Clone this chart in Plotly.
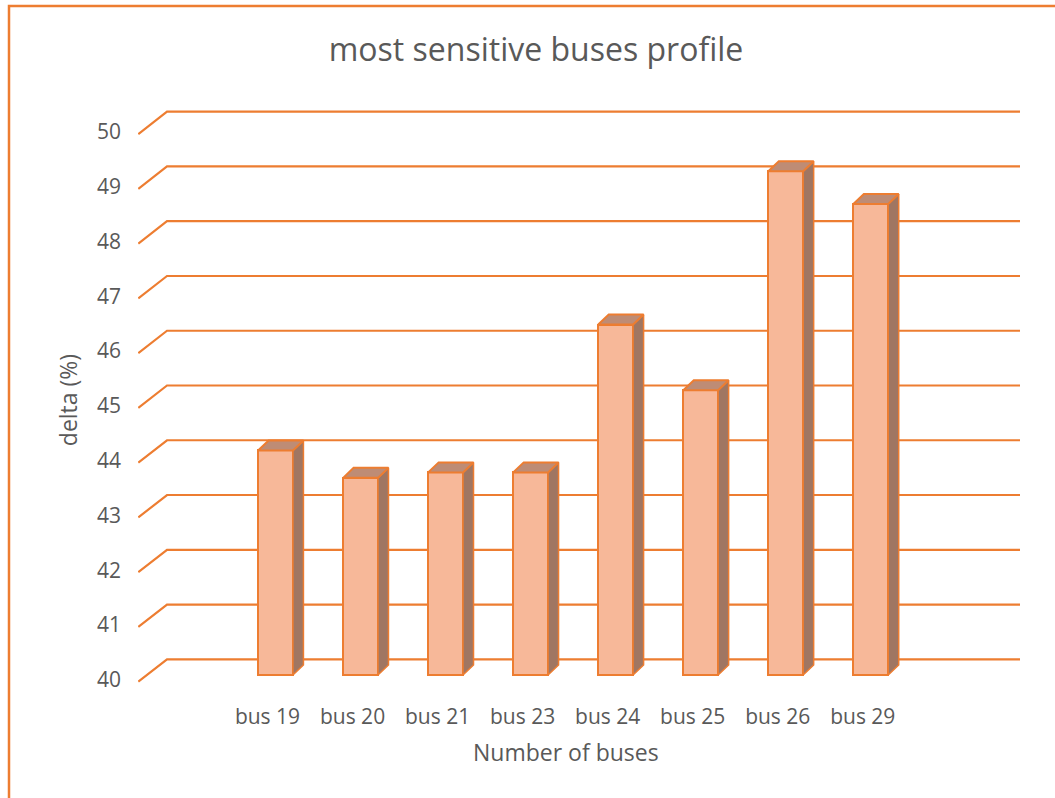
import plotly.graph_objects as go

# ---- data ----
categories = ["bus 19", "bus 20", "bus 21", "bus 23", "bus 24", "bus 25", "bus 26", "bus 29"]
delta_values = [44.1, 43.6, 43.7, 43.7, 46.4, 45.2, 49.2, 48.6]
y_ticks = [40, 41, 42, 43, 44, 45, 46, 47, 48, 49, 50]
base_value = 40

# ---- style / geometry ----
ORANGE = "#ED7D31"
FRONT = "#F7B899"
SIDE = "#A07662"
TOP = "#BE8C75"
TXT = "#595959"
FONT = "Open Sans"

W, H = 1055, 798
L, R, T, B = 138, 1030, 100, 700          # plot area in pixels
cx0, cstep = 275.5, 85.04                 # category pixel mapping
vy0, vstep = 675.0, 54.76                 # value pixel mapping (front plane)

xr = [(L - cx0) / cstep, (R - cx0) / cstep]
yr = [base_value - (B - vy0) / vstep, base_value + (vy0 - T) / vstep]

bar_w = 0.41
ddx, ddy = 10.5 / cstep, 10.0 / vstep      # bar depth offset
back_dy = (675 - 659.3) / vstep            # back wall offset
front_dy = (681.7 - 675) / vstep           # front end of side-wall gridlines
grid_x_front = (138.3 - cx0) / cstep
grid_x_back = (167 - cx0) / cstep
grid_x_end = (1020 - cx0) / cstep

xs = list(range(len(categories)))

fig = go.Figure()

# side faces
sx, sy = [], []
for i, v in zip(xs, delta_values):
    r = i + bar_w / 2
    sx += [r, r, r + ddx, r + ddx, r, None]
    sy += [base_value, v, v + ddy, base_value + ddy, base_value, None]
fig.add_trace(go.Scatter(x=sx, y=sy, mode="lines", fill="toself", fillcolor=SIDE,
                         line=dict(color=ORANGE, width=1.5), hoverinfo="skip", showlegend=False))
# top faces
tx, ty = [], []
for i, v in zip(xs, delta_values):
    l, r = i - bar_w / 2, i + bar_w / 2
    tx += [l, r, r + ddx, l + ddx, l, None]
    ty += [v, v, v + ddy, v + ddy, v, None]
fig.add_trace(go.Scatter(x=tx, y=ty, mode="lines", fill="toself", fillcolor=TOP,
                         line=dict(color=ORANGE, width=2), hoverinfo="skip", showlegend=False))
# front faces
fig.add_trace(go.Bar(x=xs, y=[v - base_value for v in delta_values], base=base_value,
                     width=bar_w, marker=dict(color=FRONT, line=dict(color=ORANGE, width=2)),
                     showlegend=False))

# gridlines (back wall + side wall) as shapes below traces
for v in y_ticks:
    fig.add_shape(type="path", layer="below", xref="x", yref="y",
                  path=f"M {grid_x_front},{v - front_dy} L {grid_x_back},{v + back_dy} L {grid_x_end},{v + back_dy}",
                  line=dict(color=ORANGE, width=2.2))

# outer border
pw, ph = R - L, B - T
fig.add_shape(type="rect", xref="paper", yref="paper", layer="above",
              x0=(9 - L) / pw, x1=(W + 40 - L) / pw,
              y0=(B - (H + 40)) / ph, y1=(B - 6) / ph,
              line=dict(color=ORANGE, width=2.5))

# x axis title
fig.add_annotation(text="Number of buses", xref="paper", yref="paper",
                   x=(566 - L) / pw, y=(B - 752) / ph, xanchor="center", yanchor="middle",
                   showarrow=False, font=dict(size=23, color=TXT, family=FONT))

fig.update_layout(
    width=W, height=H,
    margin=dict(l=L, r=W - R, t=T, b=H - B),
    paper_bgcolor="white", plot_bgcolor="white",
    font=dict(family=FONT, color=TXT),
    title=dict(text="most sensitive buses profile", x=536 / W, xanchor="center",
               y=1 - 50 / H, yanchor="middle", font=dict(size=32, color=TXT, family=FONT)),
    xaxis=dict(range=xr, showgrid=False, zeroline=False, showline=False,
               tickvals=[i - 8 / cstep for i in xs], ticktext=categories,
               ticks="", tickfont=dict(size=21, color=TXT), ticklabelstandoff=2),
    yaxis=dict(range=yr, showgrid=False, zeroline=False, showline=False,
               tickvals=[v - front_dy + 2 / vstep for v in y_ticks], ticktext=[str(v) for v in y_ticks],
               ticks="", tickfont=dict(size=21, color=TXT), ticklabelstandoff=16,
               title=dict(text="delta (%)", font=dict(size=23, color=TXT), standoff=12)),
    bargap=0,
)

fig.write_html("out.html")
